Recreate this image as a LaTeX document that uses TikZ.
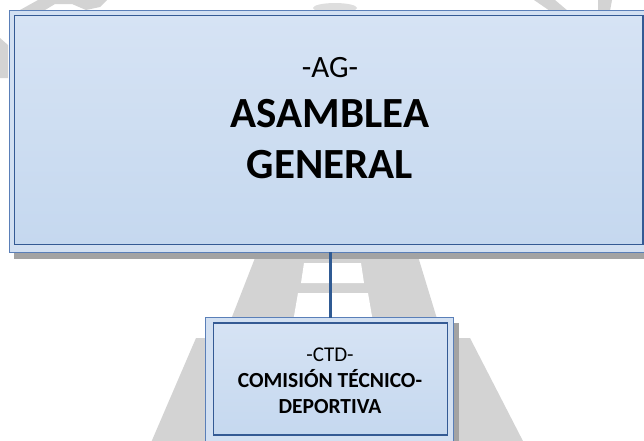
\documentclass[tikz,border=0pt]{standalone}
\usepackage{fontspec}
\setmainfont{Carlito}
\definecolor{wmgray}{HTML}{D3D3D3}
\definecolor{wmlight}{HTML}{DEDEDE}
\definecolor{shadowgray}{HTML}{A3A3A3}
\definecolor{boxtop}{HTML}{D6E3F4}
\definecolor{boxbot}{HTML}{C5D8EF}
\definecolor{framefill}{HTML}{D2E0F2}
\definecolor{outerline}{HTML}{5A7FB8}
\definecolor{innerline}{HTML}{345A94}
\definecolor{linkblue}{HTML}{2F5A93}
\begin{document}
\begin{tikzpicture}[x=1pt,y=-1pt,
  wm/.style={fill=wmgray,draw=none},
  shadowbox/.style={fill=shadowgray,draw=none},
  outerframe/.style={draw=outerline,line width=1pt,fill=framefill,inner sep=0pt,outer sep=0pt,anchor=north west},
  innerframe/.style={draw=innerline,line width=1.5pt,top color=boxtop,bottom color=boxbot,inner sep=0pt,outer sep=0pt,anchor=north west},
  link/.style={draw=linkblue,line width=2.4pt},
  lbl/.style={anchor=base,inner sep=0pt,text=black}]
\useasboundingbox (0,0) rectangle (644,440);
\clip (0,0) rectangle (644,440);
% watermark
\fill[wm] (20,10) -- (38,0) -- (107,0) -- (100,7) -- (86,10) -- (72,4) -- (55,4) -- (45,10) -- cycle;
\fill[wmlight] (335,8) ellipse [x radius=22, y radius=5];
\fill[wm] (534,0) -- (555,0) -- (568,11) -- (550,11) -- cycle;
\fill[wm] (598,0) -- (612,0) -- (610,11) -- (598,11) -- cycle;
\fill[wm] (0,38) -- (8,45) -- (8,78) -- (0,78) -- cycle;
\fill[wm] (262,240) -- (413,240) -- (438,322) -- (230,322) -- cycle;
\fill[white] (304,263) -- (361,263) -- (364,283) -- (301,283) -- cycle;
\fill[white] (298,293) -- (368,293) -- (373,322) -- (293,322) -- cycle;
\fill[wm] (196,338) -- (470,338) -- (525,445) -- (150,445) -- cycle;
% shadows
\fill[shadowbox] (14,252) rectangle (660,258.5);
\fill[shadowbox] (453,323) rectangle (459,445);
% boxes
\node[outerframe,minimum width=643.2pt,minimum height=242pt] (ag) at (9,10) {};
\node[innerframe,minimum width=628.5pt,minimum height=229pt] (agin) at (14.5,15.3) {};
\node[outerframe,minimum width=248pt,minimum height=140pt] (ctd) at (205,317.7) {};
\node[innerframe,minimum width=234pt,minimum height=112pt] (ctdin) at (213.5,323) {};
% connector
\draw[link] (ag.south) -- (ag.south |- ctd.north);
% texts
\node[lbl,font=\fontsize{31}{31}\selectfont] (agcode) at (330,77) {-AG-};
\node[lbl,font=\fontsize{43}{43}\selectfont\bfseries] (agname1) at (330,127) {ASAMBLEA};
\node[lbl,font=\fontsize{43}{43}\selectfont\bfseries] (agname2) at (330,178) {GENERAL};
\node[lbl,font=\fontsize{21}{21}\selectfont] (ctdcode) at (330,361) {-CTD-};
\node[lbl,font=\fontsize{21.5}{21.5}\selectfont\bfseries] (ctdname1) at (330,387) {COMISIÓN TÉCNICO-};
\node[lbl,font=\fontsize{21.5}{21.5}\selectfont\bfseries] (ctdname2) at (330,413) {DEPORTIVA};
\end{tikzpicture}
\end{document}
